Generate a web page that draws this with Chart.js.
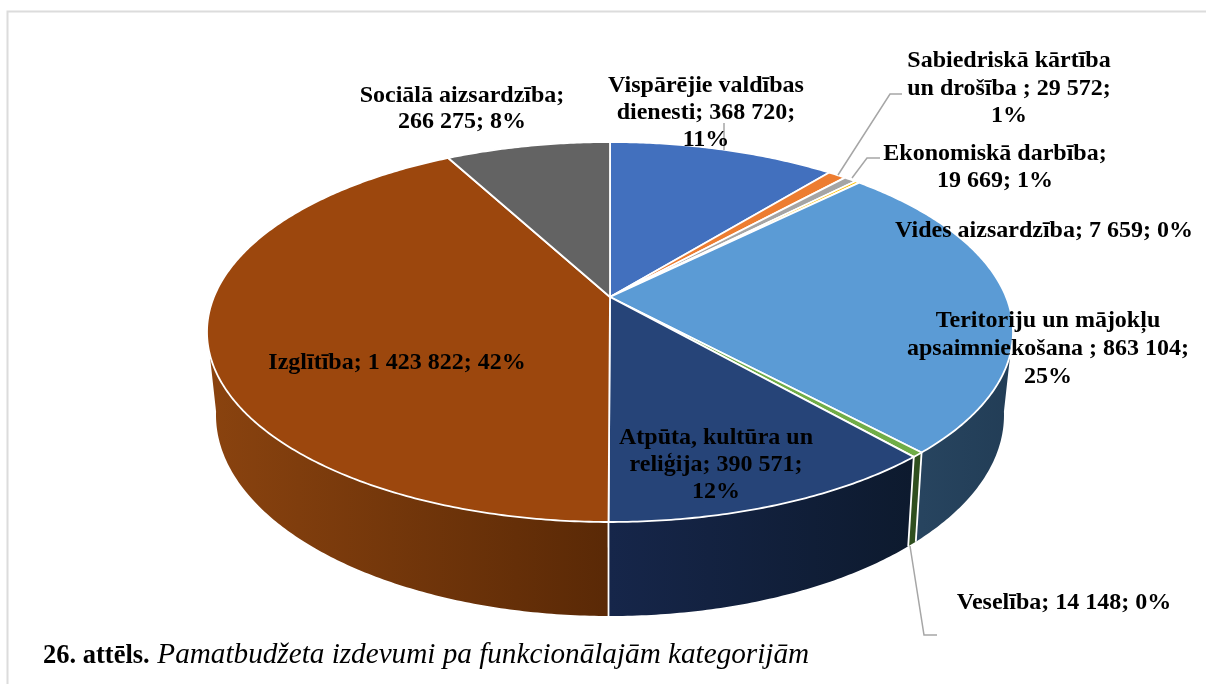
<!DOCTYPE html>
<html><head><meta charset="utf-8">
<style>html,body{margin:0;padding:0;background:#fff}canvas{display:block}</style>
<script src="https://cdn.jsdelivr.net/npm/chart.js@4/dist/chart.umd.js"></script>
</head><body><canvas id="c" width="1206" height="684"></canvas>
<script>
const categories = ["Vispārējie valdības dienesti","Sabiedriskā kārtība un drošība","Ekonomiskā darbība","Vides aizsardzība","Teritoriju un mājokļu apsaimniekošana","Veselība","Atpūta, kultūra un reliģija","Izglītība","Sociālā aizsardzība"];
const values = [368720,29572,19669,7659,863104,14148,390571,1423822,266275];
const topColors = ["#4270BE","#ED7D31","#A5A5A5","#FFC000","#5B9BD5","#70AD47","#264478","#9C470D","#636363"];
const wallLeft  = ["#2b4a80","#9a5020","#6b6b6b","#a67d00","#27445f","#2f4f1f","#16264a","#8a430f","#404040"];
const wallRight = ["#2b4a80","#9a5020","#6b6b6b","#a67d00","#223d56","#2f4f1f","#0d1a2e","#5a2906","#404040"];
const labelLines = [
 ["Vispārējie valdības","dienesti; 368 720;","11%"],
 ["Sabiedriskā kārtība","un drošība ; 29 572;","1%"],
 ["Ekonomiskā darbība;","19 669; 1%"],
 ["Vides aizsardzība; 7 659; 0%"],
 ["Teritoriju un mājokļu","apsaimniekošana ; 863 104;","25%"],
 ["Veselība; 14 148; 0%"],
 ["Atpūta, kultūra un","reliģija; 390 571;","12%"],
 ["Izglītība; 1 423 822; 42%"],
 ["Sociālā aizsardzība;","266 275; 8%"]
];
const labelCenterX = [706,1009,995,1044,1048,1064,716,397,462];
const labelFirstY  = [86,61,154,231,321,603,438,363,96];
const labelLineGap = [27,27.5,27,27,28,27,27,27,26];
const leaders = [
 [[724,123],[724,150]],
 [[838,175],[890,94],[902,94]],
 [[852,178],[867,158],[880,158]],
 null,null,
 [[910,546],[924,635],[937,635]],
 null,null,null
];
const captionBold = "26. attēls. ";
const captionItalic = "Pamatbudžeta izdevumi pa funkcionālajām kategorijām";

const TOP = {cx:610, cy:332, rx:403, ry:190, a:-0.184};
const BOT = {cx:610, cy:415, rx:394, ry:201, a:-0.19};
function proj(P, th){ // th: radians clockwise from top, disk-to-ellipse homography
  const u=Math.sin(th), v=-Math.cos(th), d=1+P.a*v;
  return [P.cx+P.rx*u*Math.sqrt(1-P.a*P.a)/d, P.cy+P.ry*(v+P.a)/d];
}
function apex(P){return [P.cx, P.cy+P.ry*P.a];}
const theta = el => [el.startAngle+Math.PI/2, el.endAngle+Math.PI/2];

Chart.ArcElement.prototype.draw = function(ctx){
  const [s,e]=theta(this), o=this.options, ap=apex(TOP);
  ctx.save();
  ctx.beginPath();
  ctx.moveTo(ap[0],ap[1]);
  const n=Math.max(2,Math.ceil((e-s)/0.01));
  for(let i=0;i<=n;i++){const p=proj(TOP,s+(e-s)*i/n);ctx.lineTo(p[0],p[1]);}
  ctx.closePath();
  ctx.fillStyle=o.backgroundColor;ctx.fill();
  ctx.lineJoin='round';ctx.strokeStyle=o.borderColor;ctx.lineWidth=o.borderWidth;ctx.stroke();
  ctx.restore();
};

const VIS=[100*Math.PI/180,260*Math.PI/180];
const wallPlugin={id:'walls',beforeDatasetsDraw(chart){
  const ctx=chart.ctx, arcs=chart.getDatasetMeta(0).data;
  ctx.save();
  arcs.forEach((el,i)=>{
    let [s,e]=theta(el); s=Math.max(s,VIS[0]); e=Math.min(e,VIS[1]);
    if(e<=s) return;
    const n=Math.max(2,Math.ceil((e-s)/0.01));
    ctx.beginPath();
    for(let k=0;k<=n;k++){const p=proj(TOP,s+(e-s)*k/n);k?ctx.lineTo(p[0],p[1]):ctx.moveTo(p[0],p[1]);}
    for(let k=n;k>=0;k--){const p=proj(BOT,s+(e-s)*k/n);ctx.lineTo(p[0],p[1]);}
    ctx.closePath();
    const xs=[proj(TOP,s)[0],proj(TOP,e)[0]];
    const g=ctx.createLinearGradient(Math.min(...xs),0,Math.max(...xs),0);
    g.addColorStop(0,wallLeft[i]);
    g.addColorStop(1,wallRight[i]);
    ctx.fillStyle=g;ctx.fill();
  });
  // white seams between walls
  ctx.strokeStyle='#fff';ctx.lineWidth=1.8;
  arcs.forEach(el=>{
    const [s]=theta(el);
    if(s>VIS[0]&&s<VIS[1]){const a=proj(TOP,s),b=proj(BOT,s);ctx.beginPath();ctx.moveTo(a[0],a[1]);ctx.lineTo(b[0],b[1]);ctx.stroke();}
  });
  ctx.restore();
}};
const framePlugin={id:'frame',beforeDraw(chart){
  const ctx=chart.ctx;ctx.save();ctx.fillStyle='#fff';ctx.fillRect(0,0,1206,684);
  ctx.strokeStyle='#dcdcdc';ctx.lineWidth=2;ctx.beginPath();ctx.moveTo(7.5,684);ctx.lineTo(7.5,11.5);ctx.lineTo(1206,11.5);ctx.stroke();ctx.restore();
}};
const labelPlugin={id:'labels',afterDatasetsDraw(chart){
  const ctx=chart.ctx;ctx.save();
  ctx.strokeStyle='#a6a6a6';ctx.lineWidth=1.5;
  leaders.forEach(l=>{if(!l)return;ctx.beginPath();l.forEach((p,i)=>i?ctx.lineTo(p[0],p[1]):ctx.moveTo(p[0],p[1]));ctx.stroke();});
  ctx.fillStyle='#000';ctx.textAlign='center';ctx.textBaseline='middle';
  ctx.font='bold 24px "Liberation Serif"';
  labelLines.forEach((ls,i)=>ls.forEach((t,j)=>ctx.fillText(t,labelCenterX[i],labelFirstY[i]+j*labelLineGap[i])));
  ctx.textAlign='left';ctx.textBaseline='alphabetic';
  ctx.font='bold 26.5px "Liberation Serif"';
  const w=ctx.measureText(captionBold).width;ctx.fillText(captionBold,43,663);
  ctx.font='italic 29.2px "Liberation Serif"';ctx.fillText(captionItalic,43+w+1,663);
  ctx.restore();
}};
new Chart(document.getElementById('c'),{
  type:'pie',
  data:{labels:categories,datasets:[{data:values,backgroundColor:topColors,borderColor:'#fff',borderWidth:1.8}]},
  options:{responsive:false,animation:false,rotation:0,plugins:{legend:{display:false},tooltip:{enabled:false}}},
  plugins:[framePlugin,wallPlugin,labelPlugin]
});
</script></body></html>
